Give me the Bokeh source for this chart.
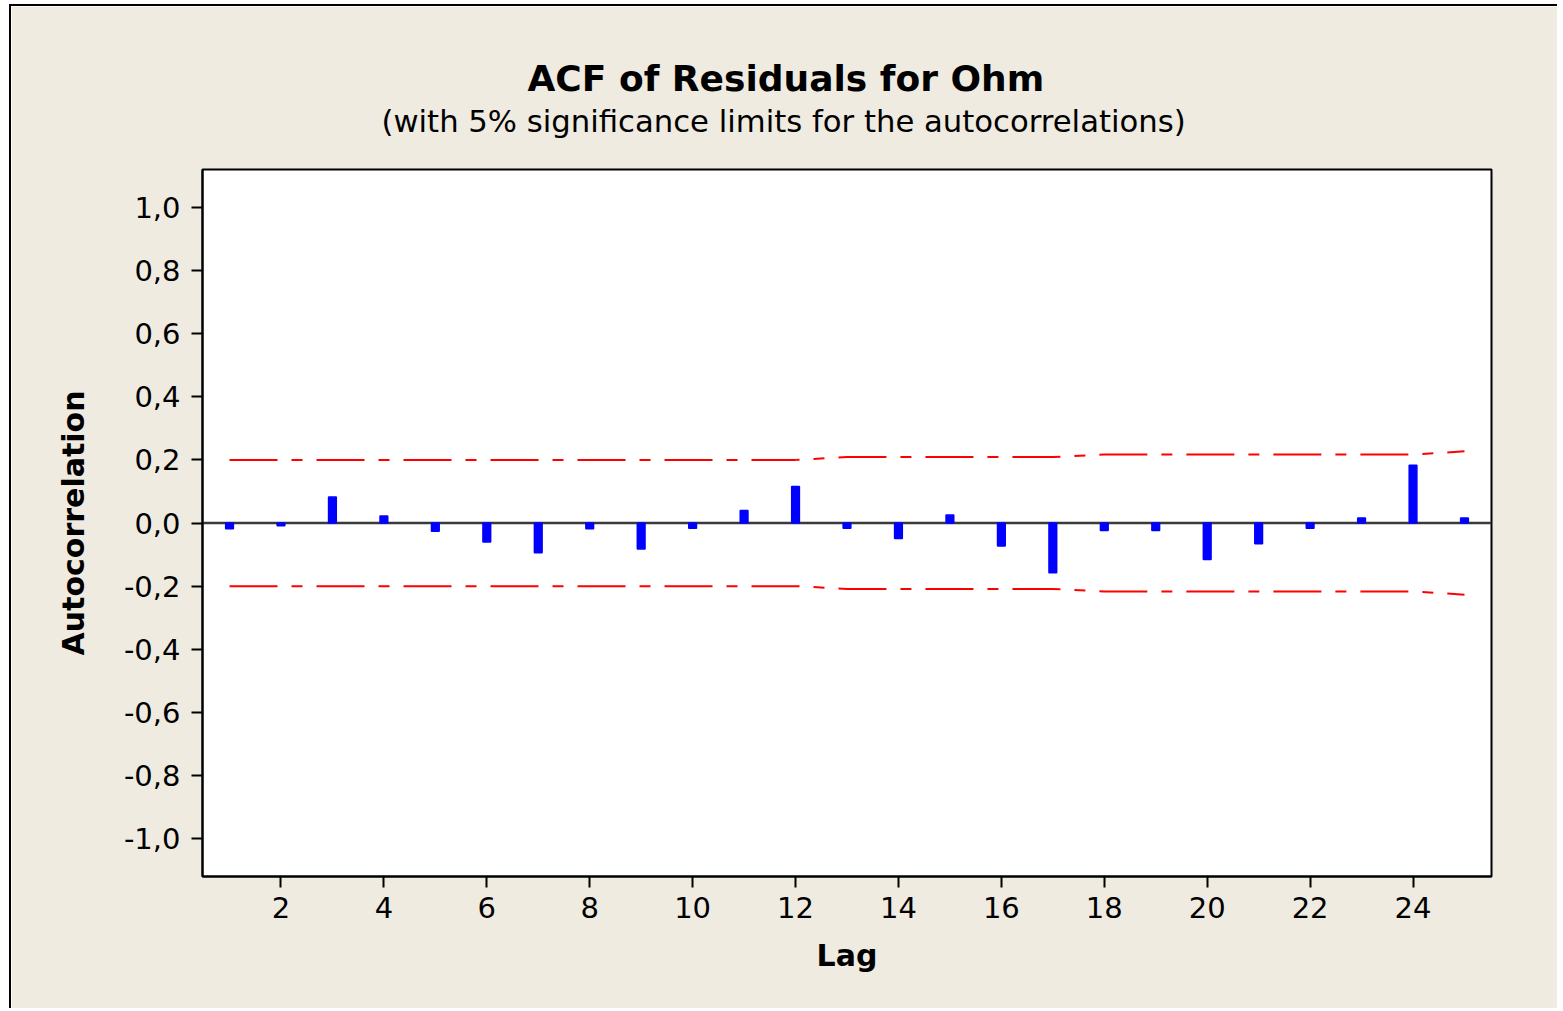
from bokeh.plotting import figure
from bokeh.models import FixedTicker, Span, Range1d, Title
from bokeh.embed import file_html
from bokeh.resources import INLINE

# ---- data ----
lags = list(range(1, 26))
acf = [-0.018, -0.009, 0.082, 0.022, -0.026, -0.060, -0.094, -0.018, -0.082, -0.017,
       0.040, 0.116, -0.017, -0.049, 0.025, -0.073, -0.158, -0.024, -0.024, -0.116,
       -0.066, -0.017, 0.016, 0.183, 0.016]
upper_limit = [0.200] * 12 + [0.209] * 5 + [0.217] * 7 + [0.227]
lower_limit = [-v for v in upper_limit]

x_ticks = [2, 4, 6, 8, 10, 12, 14, 16, 18, 20, 22, 24]
y_ticks = [-1.0, -0.8, -0.6, -0.4, -0.2, 0.0, 0.2, 0.4, 0.6, 0.8, 1.0]
y_tick_labels = ["-1,0", "-0,8", "-0,6", "-0,4", "-0,2", "0,0", "0,2", "0,4", "0,6", "0,8", "1,0"]

title_text = "ACF of Residuals for Ohm"
subtitle_text = "(with 5% significance limits for the autocorrelations)"
x_label = "Lag"
y_label = "Autocorrelation"

BG = "#EFEBE1"
FONT = "DejaVu Sans"

p = figure(width=1548, height=1004, output_backend="svg", toolbar_location=None,
           x_range=Range1d(0.475, 25.525), y_range=Range1d(-1.12, 1.12),
           min_border_left=191, min_border_right=68, min_border_top=163, min_border_bottom=134)

p.styles = {"margin-left": "9px", "margin-top": "4px",
            "border-left": "2px solid black", "border-top": "2px solid black"}
p.background_fill_color = "white"
p.border_fill_color = BG
p.outline_line_color = "black"
p.outline_line_width = 2
p.grid.visible = False

# zero line
p.add_layout(Span(location=0, dimension="width", line_color="#3a3a3a", line_width=2.5, level="underlay"))

# significance limits
dash = "48 14 11 14"
p.line(lags, upper_limit, line_color="#FF0000", line_width=2, line_dash=dash)
p.line(lags, lower_limit, line_color="#FF0000", line_width=2, line_dash=dash)

# ACF bars
p.vbar(x=lags, top=acf, bottom=0, width=0.15, fill_color="#0000FF", line_color="#0000FF", line_width=1.5)

# axes
for ax in (p.xaxis[0], p.yaxis[0]):
    ax.axis_line_color = "black"
    ax.axis_line_width = 2
    ax.major_tick_line_color = "black"
    ax.major_tick_line_width = 2
    ax.major_tick_out = 11
    ax.major_tick_in = 0
    ax.minor_tick_line_color = None
    ax.major_label_text_font = FONT
    ax.major_label_text_font_size = "29px"
    ax.major_label_text_color = "black"
    ax.axis_label_text_font = FONT
    ax.axis_label_text_font_style = "bold"
    ax.axis_label_text_font_size = "30px"
    ax.axis_label_text_color = "black"

p.xaxis.ticker = FixedTicker(ticks=x_ticks)
p.yaxis.ticker = FixedTicker(ticks=y_ticks)
p.yaxis.major_label_overrides = {t: s for t, s in zip(y_ticks, y_tick_labels)}
p.xaxis.axis_label = x_label
p.yaxis.axis_label = y_label
p.xaxis.major_label_standoff = 9
p.yaxis.major_label_standoff = 11
p.xaxis.axis_label_standoff = 17
p.yaxis.axis_label_standoff = 30

# titles (centered on the whole graph window, as in the reference -> left aligned with offset)
p.add_layout(Title(text=subtitle_text, align="left", offset=179, standoff=62,
                   text_font=FONT, text_font_style="normal", text_font_size="30.7px",
                   text_color="black"), "above")
p.add_layout(Title(text=title_text, align="left", offset=325, standoff=-56,
                   text_font=FONT, text_font_style="bold", text_font_size="36px",
                   text_color="black"), "above")

open("out.html", "w").write(file_html(p, INLINE))
